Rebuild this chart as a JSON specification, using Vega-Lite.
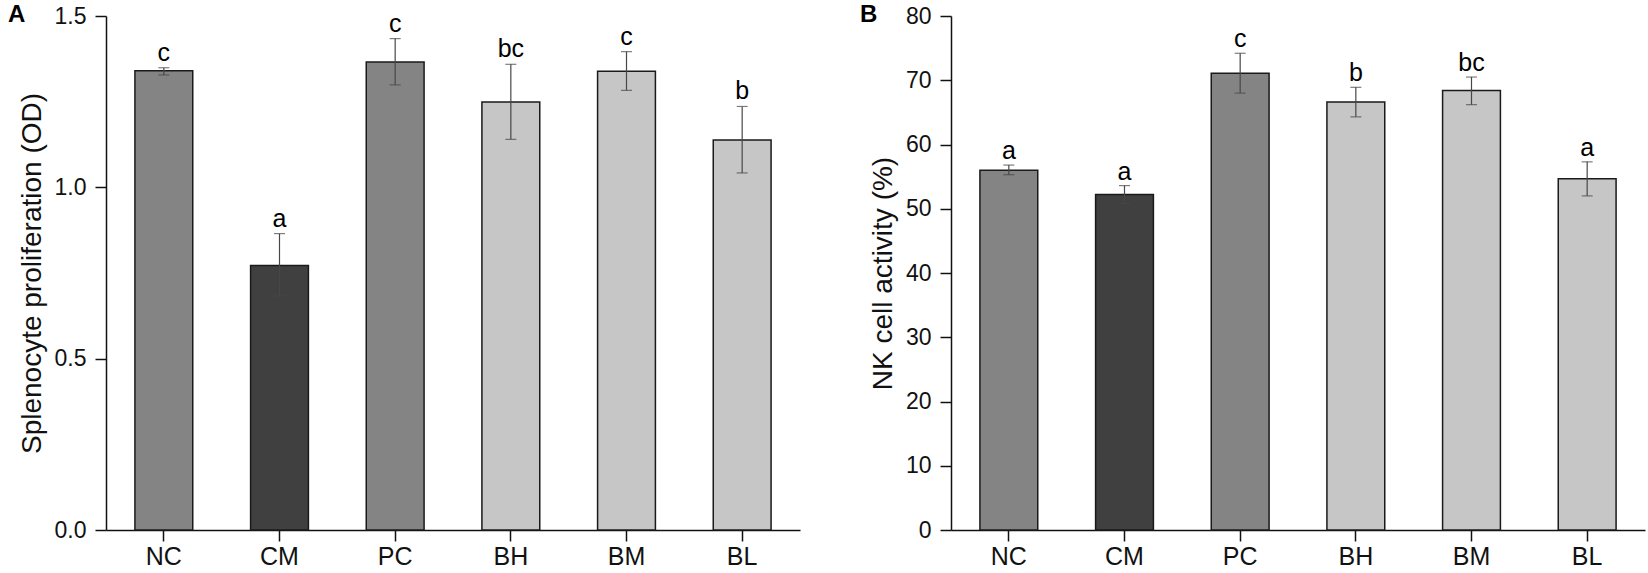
{
  "$schema": "https://vega.github.io/schema/vega-lite/v6.json",
  "background": "white",
  "padding": {"left": 8, "top": 3, "right": 2, "bottom": 0},
  "datasets": {
    "prolif": [
      {"group": "NC", "mean": 1.34, "lo": 1.328, "hi": 1.349, "sig": "c"},
      {"group": "CM", "mean": 0.772, "lo": 0.683, "hi": 0.865, "sig": "a"},
      {"group": "PC", "mean": 1.366, "lo": 1.299, "hi": 1.434, "sig": "c"},
      {"group": "BH", "mean": 1.249, "lo": 1.14, "hi": 1.359, "sig": "bc"},
      {"group": "BM", "mean": 1.339, "lo": 1.283, "hi": 1.396, "sig": "c"},
      {"group": "BL", "mean": 1.138, "lo": 1.042, "hi": 1.236, "sig": "b"}
    ],
    "nk": [
      {"group": "NC", "mean": 56.0, "lo": 55.3, "hi": 56.8, "sig": "a"},
      {"group": "CM", "mean": 52.2, "lo": 50.8, "hi": 53.6, "sig": "a"},
      {"group": "PC", "mean": 71.1, "lo": 68.0, "hi": 74.2, "sig": "c"},
      {"group": "BH", "mean": 66.6, "lo": 64.3, "hi": 68.9, "sig": "b"},
      {"group": "BM", "mean": 68.4, "lo": 66.2, "hi": 70.5, "sig": "bc"},
      {"group": "BL", "mean": 54.65, "lo": 52.0, "hi": 57.3, "sig": "a"}
    ]
  },
  "config": {
    "font": "Liberation Sans",
    "view": {"stroke": null},
    "concat": {"spacing": 60},
    "axis": {
      "grid": false,
      "domainColor": "#111111",
      "domainWidth": 1.5,
      "tickColor": "#111111",
      "tickWidth": 1.5,
      "tickSize": 11,
      "labelColor": "#111111",
      "titleColor": "#111111",
      "titleFontWeight": "normal"
    },
    "title": {"fontSize": 24, "fontWeight": "bold", "color": "#000000", "anchor": "start", "frame": "group"}
  },
  "hconcat": [
    {
      "width": 694,
      "height": 514,
      "title": {"text": "A", "dx": -98, "offset": -22},
      "data": {"name": "prolif"},
      "encoding": {
        "x": {
          "field": "group",
          "type": "nominal",
          "sort": null,
          "scale": {"paddingInner": 0.5, "paddingOuter": 0.25},
          "axis": {"title": null, "labelAngle": 0, "labelFontSize": 25, "labelPadding": 3}
        }
      },
      "layer": [
        {
          "mark": {"type": "bar", "stroke": "#1a1a1a", "strokeWidth": 1.5},
          "encoding": {
            "y": {
              "field": "mean",
              "type": "quantitative",
              "scale": {"domain": [0, 1.5], "nice": false},
              "axis": {"title": "Splenocyte proliferation (OD)", "values": [0, 0.5, 1, 1.5], "format": ".1f", "labelFontSize": 23, "labelPadding": 9, "titleFontSize": 28, "titlePadding": 8}
            },
            "color": {
              "field": "group",
              "type": "nominal",
              "legend": null,
              "scale": {"domain": ["NC", "CM", "PC", "BH", "BM", "BL"], "range": ["#848484", "#404040", "#848484", "#c6c6c6", "#c6c6c6", "#c6c6c6"]}
            }
          }
        },
        {
          "mark": {"type": "errorbar", "ticks": {"size": 11}, "color": "#474747", "thickness": 1.2},
          "encoding": {
            "y": {"field": "lo", "type": "quantitative", "title": "Splenocyte proliferation (OD)"},
            "y2": {"field": "hi"}
          }
        },
        {
          "mark": {"type": "text", "fontSize": 25, "dy": -7, "baseline": "alphabetic", "color": "#000000"},
          "encoding": {
            "y": {"field": "hi", "type": "quantitative", "title": "Splenocyte proliferation (OD)"},
            "text": {"field": "sig"}
          }
        }
      ]
    },
    {
      "width": 694,
      "height": 514,
      "title": {"text": "B", "dx": -91, "offset": -22},
      "data": {"name": "nk"},
      "encoding": {
        "x": {
          "field": "group",
          "type": "nominal",
          "sort": null,
          "scale": {"paddingInner": 0.5, "paddingOuter": 0.25},
          "axis": {"title": null, "labelAngle": 0, "labelFontSize": 25, "labelPadding": 3}
        }
      },
      "layer": [
        {
          "mark": {"type": "bar", "stroke": "#1a1a1a", "strokeWidth": 1.5},
          "encoding": {
            "y": {
              "field": "mean",
              "type": "quantitative",
              "scale": {"domain": [0, 80], "nice": false},
              "axis": {"title": "NK cell activity (%)", "values": [0, 10, 20, 30, 40, 50, 60, 70, 80], "labelFontSize": 23, "labelPadding": 9, "titleFontSize": 28, "titlePadding": 8}
            },
            "color": {
              "field": "group",
              "type": "nominal",
              "legend": null,
              "scale": {"domain": ["NC", "CM", "PC", "BH", "BM", "BL"], "range": ["#848484", "#404040", "#848484", "#c6c6c6", "#c6c6c6", "#c6c6c6"]}
            }
          }
        },
        {
          "mark": {"type": "errorbar", "ticks": {"size": 11}, "color": "#474747", "thickness": 1.2},
          "encoding": {
            "y": {"field": "lo", "type": "quantitative", "title": "NK cell activity (%)"},
            "y2": {"field": "hi"}
          }
        },
        {
          "mark": {"type": "text", "fontSize": 25, "dy": -6, "baseline": "alphabetic", "color": "#000000"},
          "encoding": {
            "y": {"field": "hi", "type": "quantitative", "title": "NK cell activity (%)"},
            "text": {"field": "sig"}
          }
        }
      ]
    }
  ]
}
